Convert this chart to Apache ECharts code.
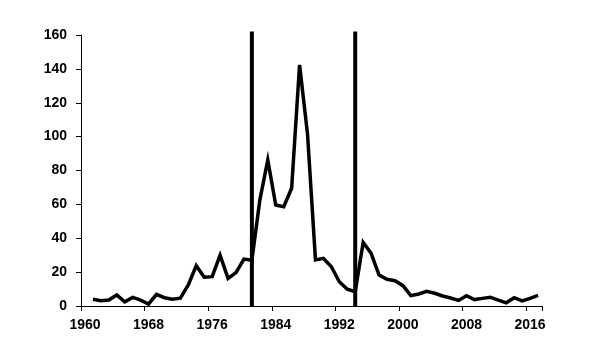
<!DOCTYPE html>
<html>
<head>
<meta charset="utf-8">
<script src="https://cdn.jsdelivr.net/npm/echarts@6/dist/echarts.min.js"></script>
<style>html,body{margin:0;padding:0;background:#fff}#c{width:600px;height:360px}</style>
</head>
<body>
<div id="c"></div>
<script>
var years = [];
for (var y = 1960; y <= 2017; y++) years.push(String(y));

var values = [
  null, 4.0, 3.1, 3.5, 6.5, 2.5, 5.1, 3.5, 1.2, 6.9,
  4.9, 4.0, 4.6, 12.4, 23.8, 17.0, 17.3, 30.0, 16.3, 19.7,
  27.7, 27.0, 62.5, 86.2, 59.6, 58.6, 69.5, 142.3, 101.5, 27.2,
  28.1, 23.2, 14.3, 9.9, 8.4, 37.5, 31.1, 18.3, 15.8, 14.9,
  12.0, 6.1, 7.1, 8.7, 7.5, 5.9, 4.7, 3.3, 6.1, 3.8,
  4.5, 5.2, 3.5, 1.9, 4.9, 3.0, 4.5, 6.3
];

var eventYears = ['1981', '1994'];
var eventHeight = 162;

var yTicks = { min: 0, max: 160, interval: 20 };

var eventData = years.map(function (yr) {
  return eventYears.indexOf(yr) >= 0 ? eventHeight : null;
});

var chart = echarts.init(document.getElementById('c'), null, { renderer: 'canvas' });
var fontCommon = { fontFamily: 'Liberation Sans', fontWeight: 'bold', fontSize: 14, color: '#000' };

chart.setOption({
  animation: false,
  backgroundColor: '#fff',
  grid: { left: 81, right: 58, top: 35, bottom: 54, containLabel: false },
  xAxis: {
    type: 'category',
    data: years,
    boundaryGap: true,
    axisLine: { show: true, lineStyle: { color: '#000', width: 1 } },
    axisTick: { show: true, interval: 7, length: 5, lineStyle: { color: '#000' } },
    axisLabel: Object.assign({ interval: 7, margin: 12 }, fontCommon),
    splitLine: { show: false }
  },
  yAxis: {
    type: 'value',
    min: yTicks.min,
    max: yTicks.max,
    interval: yTicks.interval,
    axisLine: { show: true, lineStyle: { color: '#000', width: 1 } },
    axisTick: { show: true, length: 5, lineStyle: { color: '#000' } },
    axisLabel: Object.assign({ margin: 14 }, fontCommon),
    splitLine: { show: false }
  },
  series: [
    {
      type: 'bar',
      data: eventData,
      barWidth: 4,
      clip: false,
      itemStyle: { color: '#000' },
      silent: true
    },
    {
      type: 'line',
      data: values,
      showSymbol: false,
      symbol: 'none',
      connectNulls: false,
      clip: false,
      lineStyle: { color: '#000', width: 3.5, join: 'miter' },
      z: 3
    }
  ]
});
</script>
</body>
</html>
